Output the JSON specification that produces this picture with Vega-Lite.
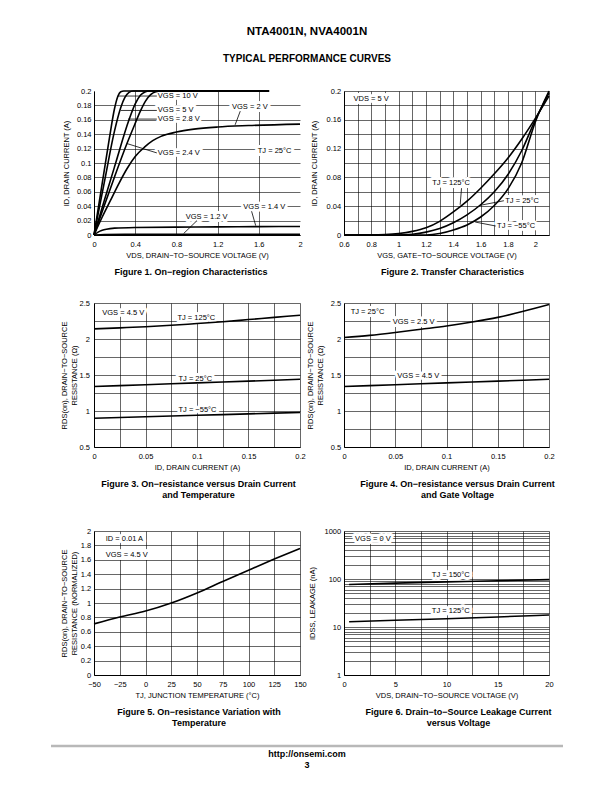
{
  "$schema": "https://vega.github.io/schema/vega-lite/v6.json",
  "padding": {"left": 49, "top": 25, "right": 0, "bottom": 0},
  "background": "white",
  "title": {
    "text": "NTA4001N, NVA4001N",
    "subtitle": "TYPICAL PERFORMANCE CURVES",
    "anchor": "middle",
    "fontSize": 11.5,
    "fontWeight": "bold",
    "subtitleFontSize": 10,
    "subtitleFontWeight": "bold",
    "subtitleColor": "black",
    "subtitlePadding": 16.7,
    "offset": 23
  },
  "columns": 2,
  "spacing": {"row": 0, "column": 44},
  "bounds": "flush",
  "align": "each",
  "config": {
    "font": "Liberation Sans",
    "view": {"stroke": null},
    "axis": {
      "domainColor": "black", "domainWidth": 1,
      "gridColor": "black", "gridWidth": 0.6, "gridOpacity": 1,
      "ticks": false, "tickSize": 0,
      "labelFontSize": 7.5, "labelColor": "black",
      "titleFontSize": 7.5, "titleFontWeight": "normal", "titleColor": "black",
      "labelOverlap": false, "labelFlush": false, "labelBound": false, "zindex": 0
    },
    "axisX": {"labelPadding": 5.5, "titlePadding": 3.2},
    "axisY": {"labelPadding": 3, "titlePadding": 5.5},
    "title": {"fontSize": 9, "fontWeight": "bold", "color": "black", "lineHeight": 11},
    "text": {"fontSize": 7.5, "color": "black"},
    "line": {"color": "black", "strokeWidth": 1.6, "interpolate": "monotone"}
  },
  "datasets": {
    "c1": [
      {"s": "10", "x": 0, "y": 0}, {"s": "10", "x": 0.1, "y": 0.09}, {"s": "10", "x": 0.15, "y": 0.135}, {"s": "10", "x": 0.2, "y": 0.176}, {"s": "10", "x": 0.23, "y": 0.192}, {"s": "10", "x": 0.26, "y": 0.199}, {"s": "10", "x": 0.29, "y": 0.2}, {"s": "10", "x": 1.7, "y": 0.2},
      {"s": "5", "x": 0, "y": 0}, {"s": "5", "x": 0.1, "y": 0.073}, {"s": "5", "x": 0.2, "y": 0.145}, {"s": "5", "x": 0.26, "y": 0.177}, {"s": "5", "x": 0.3, "y": 0.191}, {"s": "5", "x": 0.34, "y": 0.198}, {"s": "5", "x": 0.38, "y": 0.2}, {"s": "5", "x": 1.7, "y": 0.2},
      {"s": "2.8", "x": 0, "y": 0}, {"s": "2.8", "x": 0.1, "y": 0.048}, {"s": "2.8", "x": 0.2, "y": 0.095}, {"s": "2.8", "x": 0.34, "y": 0.16}, {"s": "2.8", "x": 0.4, "y": 0.182}, {"s": "2.8", "x": 0.45, "y": 0.194}, {"s": "2.8", "x": 0.5, "y": 0.199}, {"s": "2.8", "x": 0.53, "y": 0.2}, {"s": "2.8", "x": 1.7, "y": 0.2},
      {"s": "2.4", "x": 0, "y": 0}, {"s": "2.4", "x": 0.1, "y": 0.041}, {"s": "2.4", "x": 0.2, "y": 0.081}, {"s": "2.4", "x": 0.32, "y": 0.127}, {"s": "2.4", "x": 0.4, "y": 0.155}, {"s": "2.4", "x": 0.45, "y": 0.172}, {"s": "2.4", "x": 0.5, "y": 0.186}, {"s": "2.4", "x": 0.55, "y": 0.195}, {"s": "2.4", "x": 0.6, "y": 0.199}, {"s": "2.4", "x": 0.65, "y": 0.2}, {"s": "2.4", "x": 1.7, "y": 0.2},
      {"s": "2", "x": 0, "y": 0}, {"s": "2", "x": 0.08, "y": 0.025}, {"s": "2", "x": 0.16, "y": 0.048}, {"s": "2", "x": 0.24, "y": 0.071}, {"s": "2", "x": 0.32, "y": 0.092}, {"s": "2", "x": 0.4, "y": 0.109}, {"s": "2", "x": 0.49, "y": 0.122}, {"s": "2", "x": 0.57, "y": 0.131}, {"s": "2", "x": 0.65, "y": 0.137}, {"s": "2", "x": 0.8, "y": 0.143}, {"s": "2", "x": 0.97, "y": 0.147}, {"s": "2", "x": 1.2, "y": 0.15}, {"s": "2", "x": 1.5, "y": 0.152}, {"s": "2", "x": 2, "y": 0.154},
      {"s": "1.4", "x": 0, "y": 0}, {"s": "1.4", "x": 0.04, "y": 0.004}, {"s": "1.4", "x": 0.08, "y": 0.0065}, {"s": "1.4", "x": 0.12, "y": 0.008}, {"s": "1.4", "x": 0.2, "y": 0.0095}, {"s": "1.4", "x": 0.4, "y": 0.0105}, {"s": "1.4", "x": 0.8, "y": 0.011}, {"s": "1.4", "x": 1.2, "y": 0.0113}, {"s": "1.4", "x": 1.6, "y": 0.0116}, {"s": "1.4", "x": 2, "y": 0.0118},
      {"s": "1.2", "x": 0, "y": 0}, {"s": "1.2", "x": 0.1, "y": 0.0006}, {"s": "1.2", "x": 0.3, "y": 0.0009}, {"s": "1.2", "x": 2, "y": 0.001}
    ],
    "c1lab": [
      {"label": "VGS = 10 V", "x": 0.62, "y": 0.193},
      {"label": "VGS = 5 V", "x": 0.62, "y": 0.173},
      {"label": "VGS = 2.8 V", "x": 0.62, "y": 0.161},
      {"label": "VGS = 2.4 V", "x": 0.62, "y": 0.114},
      {"label": "VGS = 2 V", "x": 1.34, "y": 0.178},
      {"label": "TJ = 25°C", "x": 1.59, "y": 0.116},
      {"label": "VGS = 1.4 V", "x": 1.45, "y": 0.039},
      {"label": "VGS = 1.2 V", "x": 0.89, "y": 0.025}
    ],
    "c1lead": [
      {"x": 0.61, "y": 0.193, "x2": 0.23, "y2": 0.193},
      {"x": 0.61, "y": 0.173, "x2": 0.26, "y2": 0.173},
      {"x": 0.61, "y": 0.161, "x2": 0.33, "y2": 0.161},
      {"x": 0.61, "y": 0.114, "x2": 0.32, "y2": 0.127},
      {"x": 1.42, "y": 0.172, "x2": 1.37, "y2": 0.153},
      {"x": 1.53, "y": 0.033, "x2": 1.57, "y2": 0.013},
      {"x": 1.0, "y": 0.02, "x2": 0.87, "y2": 0.002}
    ],
    "c2": [
      {"s": "125", "x": 0.6, "y": 0}, {"s": "125", "x": 0.8, "y": 0}, {"s": "125", "x": 0.9, "y": 0.0005}, {"s": "125", "x": 1.0, "y": 0.002}, {"s": "125", "x": 1.1, "y": 0.005}, {"s": "125", "x": 1.2, "y": 0.01}, {"s": "125", "x": 1.3, "y": 0.019}, {"s": "125", "x": 1.4, "y": 0.032}, {"s": "125", "x": 1.5, "y": 0.047}, {"s": "125", "x": 1.6, "y": 0.065}, {"s": "125", "x": 1.7, "y": 0.085}, {"s": "125", "x": 1.8, "y": 0.107}, {"s": "125", "x": 1.9, "y": 0.133}, {"s": "125", "x": 2.0, "y": 0.162}, {"s": "125", "x": 2.1, "y": 0.193},
      {"s": "25", "x": 0.6, "y": 0}, {"s": "25", "x": 1.0, "y": 0}, {"s": "25", "x": 1.1, "y": 0.001}, {"s": "25", "x": 1.2, "y": 0.004}, {"s": "25", "x": 1.3, "y": 0.009}, {"s": "25", "x": 1.4, "y": 0.017}, {"s": "25", "x": 1.5, "y": 0.028}, {"s": "25", "x": 1.6, "y": 0.042}, {"s": "25", "x": 1.7, "y": 0.06}, {"s": "25", "x": 1.8, "y": 0.084}, {"s": "25", "x": 1.9, "y": 0.117}, {"s": "25", "x": 2.0, "y": 0.16}, {"s": "25", "x": 2.1, "y": 0.197},
      {"s": "-55", "x": 0.6, "y": 0}, {"s": "-55", "x": 1.2, "y": 0}, {"s": "-55", "x": 1.3, "y": 0.002}, {"s": "-55", "x": 1.4, "y": 0.007}, {"s": "-55", "x": 1.5, "y": 0.014}, {"s": "-55", "x": 1.6, "y": 0.025}, {"s": "-55", "x": 1.7, "y": 0.041}, {"s": "-55", "x": 1.8, "y": 0.064}, {"s": "-55", "x": 1.9, "y": 0.1}, {"s": "-55", "x": 2.0, "y": 0.157}, {"s": "-55", "x": 2.1, "y": 0.2}
    ],
    "c2lab": [
      {"label": "VDS = 5 V", "x": 0.67, "y": 0.189},
      {"label": "TJ = 125°C", "x": 1.245, "y": 0.0726},
      {"label": "TJ = 25°C", "x": 1.78, "y": 0.0476},
      {"label": "TJ = −55°C", "x": 1.72, "y": 0.0125}
    ],
    "c2lead": [
      {"x": 1.46, "y": 0.065, "x2": 1.45, "y2": 0.042},
      {"x": 1.77, "y": 0.0476, "x2": 1.59, "y2": 0.041},
      {"x": 1.71, "y": 0.0125, "x2": 1.56, "y2": 0.018}
    ],
    "c3": [
      {"s": "125", "x": 0, "y": 2.14}, {"s": "125", "x": 0.025, "y": 2.155}, {"s": "125", "x": 0.05, "y": 2.17}, {"s": "125", "x": 0.075, "y": 2.19}, {"s": "125", "x": 0.1, "y": 2.215}, {"s": "125", "x": 0.125, "y": 2.24}, {"s": "125", "x": 0.15, "y": 2.27}, {"s": "125", "x": 0.175, "y": 2.3}, {"s": "125", "x": 0.2, "y": 2.33},
      {"s": "25", "x": 0, "y": 1.34}, {"s": "25", "x": 0.05, "y": 1.365}, {"s": "25", "x": 0.1, "y": 1.39}, {"s": "25", "x": 0.15, "y": 1.415}, {"s": "25", "x": 0.2, "y": 1.44},
      {"s": "-55", "x": 0, "y": 0.9}, {"s": "-55", "x": 0.05, "y": 0.92}, {"s": "-55", "x": 0.1, "y": 0.94}, {"s": "-55", "x": 0.15, "y": 0.96}, {"s": "-55", "x": 0.2, "y": 0.98}
    ],
    "c3lab": [
      {"label": "VGS = 4.5 V", "x": 0.008, "y": 2.36},
      {"label": "TJ = 125°C", "x": 0.081, "y": 2.297},
      {"label": "TJ = 25°C", "x": 0.082, "y": 1.45},
      {"label": "TJ = −55°C", "x": 0.082, "y": 1.02}
    ],
    "c4": [
      {"s": "2.5", "x": 0, "y": 2.02}, {"s": "2.5", "x": 0.025, "y": 2.05}, {"s": "2.5", "x": 0.05, "y": 2.09}, {"s": "2.5", "x": 0.075, "y": 2.135}, {"s": "2.5", "x": 0.1, "y": 2.18}, {"s": "2.5", "x": 0.125, "y": 2.235}, {"s": "2.5", "x": 0.15, "y": 2.3}, {"s": "2.5", "x": 0.175, "y": 2.385}, {"s": "2.5", "x": 0.2, "y": 2.48},
      {"s": "4.5", "x": 0, "y": 1.34}, {"s": "4.5", "x": 0.05, "y": 1.365}, {"s": "4.5", "x": 0.1, "y": 1.39}, {"s": "4.5", "x": 0.15, "y": 1.415}, {"s": "4.5", "x": 0.2, "y": 1.44}
    ],
    "c4lab": [
      {"label": "TJ = 25°C", "x": 0.0065, "y": 2.37},
      {"label": "VGS = 2.5 V", "x": 0.0475, "y": 2.236},
      {"label": "VGS = 4.5 V", "x": 0.052, "y": 1.486}
    ],
    "c5": [
      {"x": -50, "y": 0.71}, {"x": -25, "y": 0.805}, {"x": 0, "y": 0.888}, {"x": 25, "y": 1.0}, {"x": 50, "y": 1.14}, {"x": 75, "y": 1.3}, {"x": 100, "y": 1.456}, {"x": 125, "y": 1.61}, {"x": 150, "y": 1.758}
    ],
    "c5lab": [
      {"label": "ID = 0.01 A", "x": -38.6, "y": 1.89},
      {"label": "VGS = 4.5 V", "x": -38.6, "y": 1.665}
    ],
    "c6": [
      {"s": "150", "x": 0.5, "y": 77}, {"s": "150", "x": 5, "y": 82}, {"s": "150", "x": 10, "y": 87}, {"s": "150", "x": 15, "y": 92}, {"s": "150", "x": 20, "y": 97},
      {"s": "125", "x": 0.5, "y": 12.9}, {"s": "125", "x": 5, "y": 13.8}, {"s": "125", "x": 10, "y": 14.9}, {"s": "125", "x": 15, "y": 16.2}, {"s": "125", "x": 20, "y": 17.8}
    ],
    "c6lab": [
      {"label": "VGS = 0 V", "x": 1.08, "y": 671},
      {"label": "TJ = 150°C", "x": 8.57, "y": 119},
      {"label": "TJ = 125°C", "x": 8.57, "y": 21.5}
    ],
    "foot": [{"a": 0, "b": 1, "y": 0}]
  },
  "concat": [
    {
      "width": 206, "height": 144,
      "title": {"text": "Figure 1. On−region Characteristics", "orient": "bottom", "anchor": "middle", "frame": "group", "offset": 9, "dx": -6},
      "encoding": {
        "x": {"field": "x", "type": "quantitative", "scale": {"domain": [0, 2], "nice": false, "zero": false},
          "axis": {"values": [0, 0.4, 0.8, 1.2, 1.6, 2], "title": "VDS, DRAIN−TO−SOURCE VOLTAGE (V)",
            "labelExpr": "format(datum.value, '~g')",
            "gridOpacity": {"condition": {"test": "datum.value > 1.99", "value": 0}, "value": 1}}},
        "y": {"field": "y", "type": "quantitative", "scale": {"domain": [0, 0.2], "nice": false},
          "axis": {"values": [0, 0.02, 0.04, 0.06, 0.08, 0.1, 0.12, 0.14, 0.16, 0.18, 0.2], "title": "ID, DRAIN CURRENT (A)", "labelPadding": 3, "titlePadding": 5.5,
            "labelExpr": "format(datum.value, '~g')",
            "gridOpacity": {"condition": {"test": "datum.value > 0.199", "value": 0}, "value": 1}}}
      },
      "layer": [
        {"data": {"name": "c1lab"}, "mark": {"type": "text", "align": "left", "baseline": "middle", "fill": "white", "stroke": "white", "strokeWidth": 6, "strokeJoin": "round"}, "encoding": {"text": {"field": "label"}}},
        {"data": {"name": "c1"}, "mark": {"type": "line"}, "encoding": {"detail": {"field": "s"}}},
        {"data": {"name": "c1lead"}, "mark": {"type": "rule", "color": "black", "strokeWidth": 0.8}, "encoding": {"x2": {"field": "x2"}, "y2": {"field": "y2"}}},
        {"data": {"name": "c1lab"}, "mark": {"type": "text", "align": "left", "baseline": "middle"}, "encoding": {"text": {"field": "label"}}}
      ]
    },
    {
      "width": 205, "height": 144,
      "title": {"text": "Figure 2. Transfer Characteristics", "orient": "bottom", "anchor": "middle", "frame": "group", "offset": 9, "dx": 6},
      "encoding": {
        "x": {"field": "x", "type": "quantitative", "scale": {"domain": [0.6, 2.1], "nice": false, "zero": false},
          "axis": {"values": [0.6, 0.7, 0.8, 0.9, 1, 1.1, 1.2, 1.3, 1.4, 1.5, 1.6, 1.7, 1.8, 1.9, 2, 2.1], "title": "VGS, GATE−TO−SOURCE VOLTAGE (V)",
            "labelExpr": "round(datum.value*10) % 2 == 0 ? format(datum.value, '~g') : ''"}},
        "y": {"field": "y", "type": "quantitative", "scale": {"domain": [0, 0.2], "nice": false},
          "axis": {"values": [0, 0.02, 0.04, 0.06, 0.08, 0.1, 0.12, 0.14, 0.16, 0.18, 0.2], "title": "ID, DRAIN CURRENT (A)", "labelPadding": 3.3, "titlePadding": 8,
            "labelExpr": "round(datum.value*100) % 4 == 0 ? format(datum.value, '~g') : ''"}}
      },
      "layer": [
        {"data": {"name": "c2lab"}, "mark": {"type": "text", "align": "left", "baseline": "middle", "fill": "white", "stroke": "white", "strokeWidth": 6, "strokeJoin": "round"}, "encoding": {"text": {"field": "label"}}},
        {"data": {"name": "c2"}, "mark": {"type": "line"}, "encoding": {"detail": {"field": "s"}}},
        {"data": {"name": "c2lead"}, "mark": {"type": "rule", "color": "black", "strokeWidth": 0.8}, "encoding": {"x2": {"field": "x2"}, "y2": {"field": "y2"}}},
        {"data": {"name": "c2lab"}, "mark": {"type": "text", "align": "left", "baseline": "middle"}, "encoding": {"text": {"field": "label"}}}
      ]
    },
    {"width": 206, "height": 68, "data": {"values": []}, "mark": "point"},
    {"width": 205, "height": 68, "data": {"values": []}, "mark": "point"},
    {
      "width": 206, "height": 144,
      "title": {"text": ["Figure 3. On−resistance versus Drain Current", "and Temperature"], "orient": "bottom", "anchor": "middle", "frame": "group", "offset": 9, "dx": 1.5},
      "encoding": {
        "x": {"field": "x", "type": "quantitative", "scale": {"domain": [0, 0.2], "nice": false},
          "axis": {"values": [0, 0.025, 0.05, 0.075, 0.1, 0.125, 0.15, 0.175, 0.2], "title": "ID, DRAIN CURRENT (A)",
            "labelExpr": "round(datum.value*1000) % 50 == 0 ? format(datum.value, '~g') : ''"}},
        "y": {"field": "y", "type": "quantitative", "scale": {"domain": [0.5, 2.5], "nice": false, "zero": false},
          "axis": {"values": [0.5, 0.75, 1, 1.25, 1.5, 1.75, 2, 2.25, 2.5], "title": ["RDS(on), DRAIN−TO−SOURCE", "RESISTANCE (Ω)"], "titleLineHeight": 10, "labelPadding": 4.5, "titlePadding": 1,
            "labelExpr": "round(datum.value*100) % 50 == 0 ? format(datum.value, '~g') : ''"}}
      },
      "layer": [
        {"data": {"name": "c3lab"}, "mark": {"type": "text", "align": "left", "baseline": "middle", "fill": "white", "stroke": "white", "strokeWidth": 6, "strokeJoin": "round"}, "encoding": {"text": {"field": "label"}}},
        {"data": {"name": "c3"}, "mark": {"type": "line"}, "encoding": {"detail": {"field": "s"}}},
        {"data": {"name": "c3lab"}, "mark": {"type": "text", "align": "left", "baseline": "middle"}, "encoding": {"text": {"field": "label"}}}
      ]
    },
    {
      "width": 205, "height": 144,
      "title": {"text": ["Figure 4. On−resistance versus Drain Current", "and Gate Voltage"], "orient": "bottom", "anchor": "middle", "frame": "group", "offset": 9, "dx": 11},
      "encoding": {
        "x": {"field": "x", "type": "quantitative", "scale": {"domain": [0, 0.2], "nice": false},
          "axis": {"values": [0, 0.025, 0.05, 0.075, 0.1, 0.125, 0.15, 0.175, 0.2], "title": "ID, DRAIN CURRENT (A)",
            "labelExpr": "round(datum.value*1000) % 50 == 0 ? format(datum.value, '~g') : ''"}},
        "y": {"field": "y", "type": "quantitative", "scale": {"domain": [0.5, 2.5], "nice": false, "zero": false},
          "axis": {"values": [0.5, 0.75, 1, 1.25, 1.5, 1.75, 2, 2.25, 2.5], "title": ["RDS(on), DRAIN−TO−SOURCE", "RESISTANCE (Ω)"], "titleLineHeight": 10, "labelPadding": 3.3, "titlePadding": 6,
            "labelExpr": "round(datum.value*100) % 50 == 0 ? format(datum.value, '~g') : ''"}}
      },
      "layer": [
        {"data": {"name": "c4lab"}, "mark": {"type": "text", "align": "left", "baseline": "middle", "fill": "white", "stroke": "white", "strokeWidth": 6, "strokeJoin": "round"}, "encoding": {"text": {"field": "label"}}},
        {"data": {"name": "c4"}, "mark": {"type": "line"}, "encoding": {"detail": {"field": "s"}}},
        {"data": {"name": "c4lab"}, "mark": {"type": "text", "align": "left", "baseline": "middle"}, "encoding": {"text": {"field": "label"}}}
      ]
    },
    {"width": 206, "height": 84, "data": {"values": []}, "mark": "point"},
    {"width": 205, "height": 84, "data": {"values": []}, "mark": "point"},
    {
      "width": 206, "height": 144,
      "title": {"text": ["Figure 5. On−resistance Variation with", "Temperature"], "orient": "bottom", "anchor": "middle", "frame": "group", "offset": 9, "dx": 2},
      "encoding": {
        "x": {"field": "x", "type": "quantitative", "scale": {"domain": [-50, 150], "nice": false, "zero": false},
          "axis": {"values": [-50, -25, 0, 25, 50, 75, 100, 125, 150], "title": "TJ, JUNCTION TEMPERATURE (°C)",
            "labelExpr": "format(datum.value, 'd')"}},
        "y": {"field": "y", "type": "quantitative", "scale": {"domain": [0, 2], "nice": false},
          "axis": {"values": [0, 0.2, 0.4, 0.6, 0.8, 1, 1.2, 1.4, 1.6, 1.8, 2], "title": ["RDS(on), DRAIN−TO−SOURCE", "RESISTANCE (NORMALIZED)"], "titleLineHeight": 10, "labelPadding": 3.3, "titlePadding": 1.5,
            "labelExpr": "format(datum.value, '~g')"}}
      },
      "layer": [
        {"data": {"name": "c5lab"}, "mark": {"type": "text", "align": "left", "baseline": "middle", "fill": "white", "stroke": "white", "strokeWidth": 6, "strokeJoin": "round"}, "encoding": {"text": {"field": "label"}}},
        {"data": {"name": "c5"}, "mark": {"type": "line"}},
        {"data": {"name": "c5lab"}, "mark": {"type": "text", "align": "left", "baseline": "middle"}, "encoding": {"text": {"field": "label"}}}
      ]
    },
    {
      "width": 205, "height": 144,
      "title": {"text": ["Figure 6. Drain−to−Source Leakage Current", "versus Voltage"], "orient": "bottom", "anchor": "middle", "frame": "group", "offset": 9, "dx": 12},
      "encoding": {
        "x": {"field": "x", "type": "quantitative", "scale": {"domain": [0, 20], "nice": false},
          "axis": {"values": [0, 2.5, 5, 7.5, 10, 12.5, 15, 17.5, 20], "title": "VDS, DRAIN−TO−SOURCE VOLTAGE (V)",
            "labelExpr": "round(datum.value*10) % 50 == 0 ? format(datum.value, '~g') : ''"}},
        "y": {"field": "y", "type": "quantitative", "scale": {"type": "log", "domain": [1, 1000], "nice": false},
          "axis": {"values": [1, 2, 3, 4, 5, 6, 7, 8, 9, 10, 20, 30, 40, 50, 60, 70, 80, 90, 100, 200, 300, 400, 500, 600, 700, 800, 900, 1000], "title": "IDSS, LEAKAGE (nA)", "labelPadding": 3.3, "titlePadding": 8,
            "labelExpr": "indexof([1, 10, 100, 1000], datum.value) >= 0 ? format(datum.value, 'd') : ''"}}
      },
      "layer": [
        {"data": {"name": "c6lab"}, "mark": {"type": "text", "align": "left", "baseline": "middle", "fill": "white", "stroke": "white", "strokeWidth": 6, "strokeJoin": "round"}, "encoding": {"text": {"field": "label"}}},
        {"data": {"name": "c6"}, "mark": {"type": "line"}, "encoding": {"detail": {"field": "s"}}},
        {"data": {"name": "c6lab"}, "mark": {"type": "text", "align": "left", "baseline": "middle"}, "encoding": {"text": {"field": "label"}}}
      ]
    },
    {"width": 206, "height": 70, "data": {"values": []}, "mark": "point"},
    {"width": 205, "height": 70, "data": {"values": []}, "mark": "point"},
    {
      "width": 206, "height": 1,
      "data": {"name": "foot"},
      "title": {"text": ["http://onsemi.com", "3"], "orient": "bottom", "anchor": "middle", "frame": "group", "offset": 3, "dx": 110, "fontSize": 9, "lineHeight": 11},
      "mark": {"type": "rule", "color": "#b8b8b8", "strokeWidth": 2.5},
      "encoding": {
        "x": {"field": "a", "type": "quantitative", "scale": {"domain": [0, 1], "range": [-43, 469]}, "axis": null},
        "x2": {"field": "b"},
        "y": {"field": "y", "type": "quantitative", "scale": {"domain": [0, 1]}, "axis": null}
      }
    }
  ]
}
